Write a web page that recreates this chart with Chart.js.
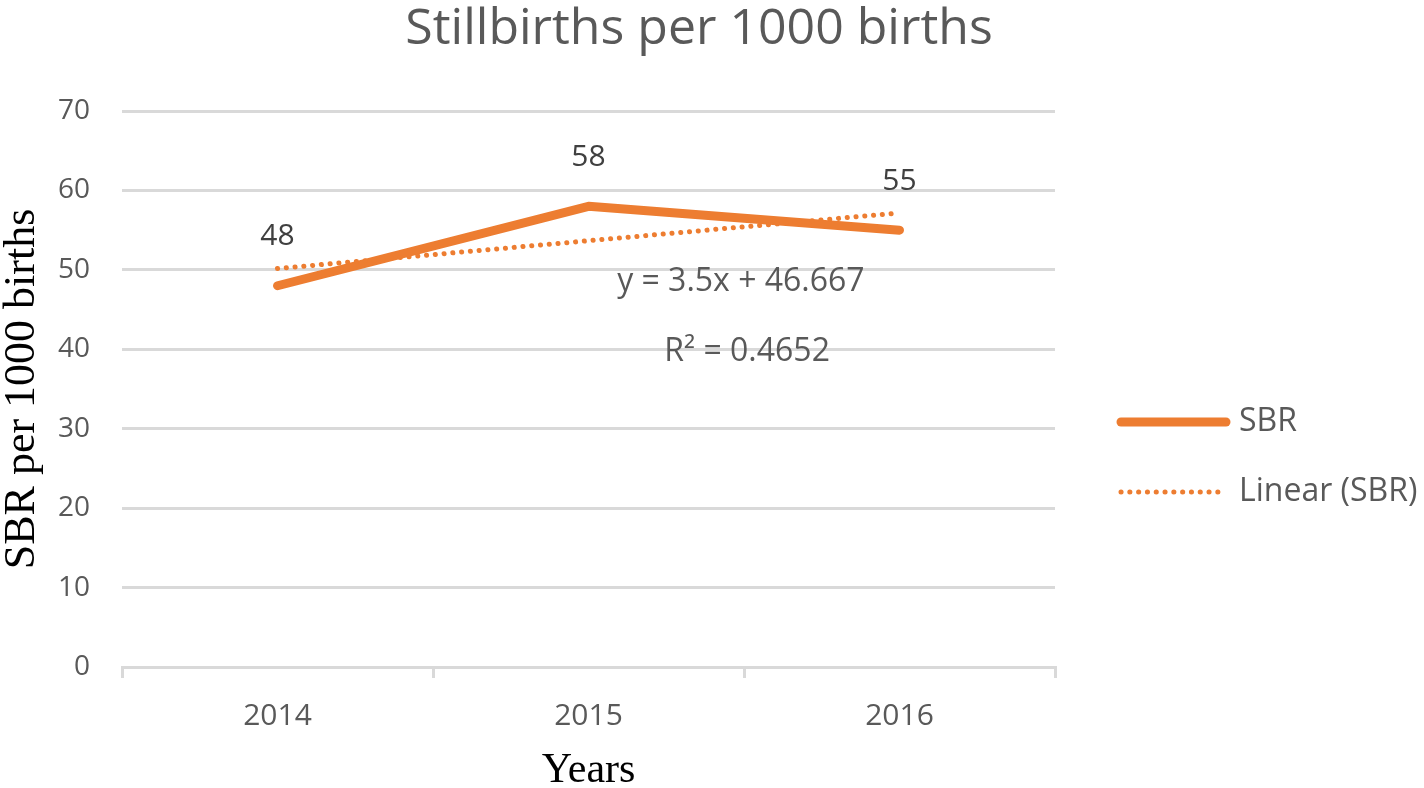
<!DOCTYPE html>
<html>
<head>
<meta charset="utf-8">
<script src="https://cdn.jsdelivr.net/npm/chart.js@4.4.1/dist/chart.umd.min.js"></script>
<style>
  html, body { margin: 0; padding: 0; background: #fff; }
  #chart { display: block; }
</style>
</head>
<body>
<canvas id="chart" width="1424" height="788"></canvas>
<script>
const years = ['2014', '2015', '2016']
const sbr = [48, 58, 55]
const linearSbr = [50.167, 53.667, 57.167]   // y = 3.5x + 46.667
const yTicks = [0, 10, 20, 30, 40, 50, 60, 70]
const trendText = ['y = 3.5x + 46.667', 'R² = 0.4652']
const chartTitle = 'Stillbirths per 1000 births'

const orange = '#ED7D31'
const grey = '#595959'
const gridGrey = '#D9D9D9'
const sans = "'Open Sans', 'DejaVu Sans', sans-serif"
const serif = "'Liberation Serif', 'DejaVu Serif', serif"

// title centred on the whole canvas, like the original
const titlePlugin = {
    id: 'topTitle',
    afterDraw(chart) {
        const ctx = chart.ctx
        ctx.save()
        ctx.fillStyle = grey
        ctx.font = `50px ${sans}`
        ctx.textAlign = 'center'
        ctx.textBaseline = 'middle'
        ctx.fillText(chartTitle, 699, 30)
        ctx.restore()
    }
}

// point labels + trend equation
const labelsPlugin = {
    id: 'labels',
    afterDatasetsDraw(chart) {
        const ctx = chart.ctx
        const x = chart.scales.x, y = chart.scales.y
        ctx.save()
        ctx.fillStyle = '#404040'
        ctx.font = `30px ${sans}`
        ctx.textAlign = 'center'
        ctx.textBaseline = 'middle'
        sbr.forEach((v, i) => {
            ctx.fillText(String(v), x.getPixelForValue(i), y.getPixelForValue(v) - 49)
        })
        ctx.fillStyle = grey
        ctx.font = `32px ${sans}`
        ctx.fillText(trendText[0], x.getPixelForValue(1.49), y.getPixelForValue(48.5))
        ctx.fillText(trendText[1], x.getPixelForValue(1.51), y.getPixelForValue(39.7))
        ctx.restore()
    }
}

// legend on the right
const legendPlugin = {
    id: 'sideLegend',
    afterDraw(chart) {
        const ctx = chart.ctx
        const items = [
            { label: 'SBR', ds: chart.data.datasets[0], y: 422 },
            { label: 'Linear (SBR)', ds: chart.data.datasets[1], y: 492 }
        ]
        ctx.save()
        items.forEach(it => {
            ctx.beginPath()
            ctx.strokeStyle = it.ds.borderColor
            ctx.lineWidth = it.ds.borderWidth
            ctx.lineCap = it.ds.borderCapStyle
            ctx.setLineDash(it.ds.borderDash || [])
            ctx.moveTo(1121, it.y)
            ctx.lineTo(1226, it.y)
            ctx.stroke()
            ctx.setLineDash([])
            ctx.fillStyle = grey
            ctx.font = `32px ${sans}`
            ctx.textAlign = 'left'
            ctx.textBaseline = 'middle'
            ctx.fillText(it.label, 1239, it.y)
        })
        ctx.restore()
    }
}

new Chart(document.getElementById('chart'), {
    type: 'line',
    data: {
        labels: years,
        datasets: [
            {
                label: 'SBR',
                data: sbr,
                borderColor: orange,
                backgroundColor: orange,
                borderWidth: 9,
                borderCapStyle: 'round',
                borderJoinStyle: 'round',
                pointRadius: 0,
                tension: 0,
                order: 2
            },
            {
                label: 'Linear (SBR)',
                data: linearSbr,
                borderColor: orange,
                backgroundColor: orange,
                borderWidth: 5,
                borderDash: [0.1, 8.7],
                borderCapStyle: 'round',
                pointRadius: 0,
                tension: 0,
                order: 1
            }
        ]
    },
    options: {
        responsive: false,
        animation: false,
        layout: { padding: { top: 111, right: 369, left: 0, bottom: 0 } },
        plugins: {
            legend: { display: false },
            tooltip: { enabled: false },
            title: { display: false }
        },
        scales: {
            x: {
                offset: true,
                grid: {
                    offset: true,
                    drawOnChartArea: false,
                    drawTicks: true,
                    tickLength: 11,
                    color: gridGrey,
                    lineWidth: 3
                },
                border: { display: true, color: gridGrey, width: 3 },
                ticks: {
                    color: grey,
                    padding: 20,
                    font: { family: sans, size: 30 }
                },
                title: {
                    display: true,
                    text: 'Years',
                    color: '#000',
                    font: { family: serif, size: 42, lineHeight: 1 },
                    padding: { top: 0, bottom: -4 }
                },
                afterFit: s => { s.height = 121 }
            },
            y: {
                min: 0,
                max: 70,
                afterBuildTicks: s => { s.ticks = yTicks.map(v => ({ value: v })) },
                grid: { color: gridGrey, lineWidth: 3, drawTicks: false },
                border: { display: false },
                ticks: {
                    color: grey,
                    padding: 32,
                    font: { family: sans, size: 28 }
                },
                title: {
                    display: true,
                    text: 'SBR per 1000 births',
                    color: '#000',
                    font: { family: serif, size: 44, lineHeight: 1 },
                    padding: { top: 0, bottom: 0 }
                },
                afterFit: s => { s.width = 122 }
            }
        }
    },
    plugins: [titlePlugin, labelsPlugin, legendPlugin]
})
</script>
</body>
</html>
